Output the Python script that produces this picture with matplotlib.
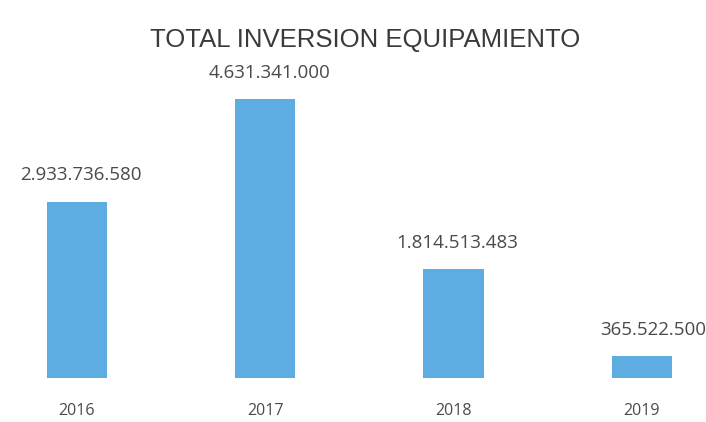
"""
Total inversion equipamiento por año
"""
import matplotlib.pyplot as plt

#------------------------------------------------------------------------------
# Data
#------------------------------------------------------------------------------

years = ['2016', '2017', '2018', '2019']
inversion = [2933736580, 4631341000, 1814513483, 365522500]
value_labels = ['2.933.736.580', '4.631.341.000', '1.814.513.483', '365.522.500']

#------------------------------------------------------------------------------
# Plot
#------------------------------------------------------------------------------

fig = plt.figure(figsize=(7.06, 4.22), dpi=100)
ax = fig.add_axes([0, 0.104, 1, 0.753])

x = list(range(len(years)))
ax.bar(x, inversion, width=0.32, color='#5dade2')

ax.set_xlim(-0.409, 3.342)
ax.set_ylim(0, 5.28e9)

for xi, v, lab in zip(x, inversion, value_labels):
    dx = 8 if xi == 3 else 3
    ax.annotate(lab, (xi, v), xytext=(dx, 19), textcoords='offset points',
                ha='center', va='center', fontsize=13.5, color='#4a4a4a',
                family='Open Sans')

ax.set_xticks(x)
ax.set_xticklabels(years, fontsize=11.5, color='#4a4a4a', family='Open Sans')
ax.tick_params(axis='x', length=0, pad=18)
ax.set_yticks([])
for s in ax.spines.values():
    s.set_visible(False)

fig.text(0.517, 0.905, 'TOTAL INVERSION EQUIPAMIENTO', ha='center', va='center',
         fontsize=18.5, color='#3a3a3a', family='Liberation Sans')

fig.savefig('out.png', dpi=100)
